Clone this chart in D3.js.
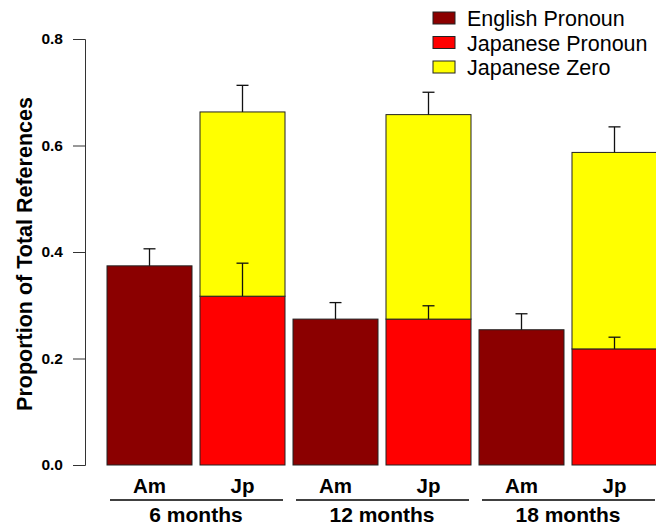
<!DOCTYPE html>
<html>
<head>
<meta charset="utf-8">
<script src="https://cdn.jsdelivr.net/npm/d3@7"></script>
<style>
  html, body { margin: 0; padding: 0; background: #fff; }
  svg { display: block; font-family: "Liberation Sans", Arial, Helvetica, sans-serif; }
</style>
</head>
<body>
<svg id="chart" width="656" height="527"></svg>
<script>
// Ages at which the references were sampled
const ages = ["6 months", "12 months", "18 months"];
const groups = ["Am", "Jp"];

// English pronoun proportion (American children) and its standard error
const englishPronoun = [0.374, 0.274, 0.254];
const englishPronounSE = [0.032, 0.031, 0.030];

// Japanese pronoun proportion and standard error
const japanesePronoun = [0.317, 0.274, 0.218];
const japanesePronounSE = [0.062, 0.025, 0.022];

// Japanese zero-reference proportion (stacked above the pronoun) and SE of the stack total
const japaneseZero = [0.346, 0.384, 0.369];
const japaneseTotalSE = [0.050, 0.042, 0.048];

const yTicks = [0.0, 0.2, 0.4, 0.6, 0.8];
const legendLabels = ["English Pronoun", "Japanese Pronoun", "Japanese Zero"];
const legendColors = ["#8b0000", "#ff0000", "#ffff00"];

const svg = d3.select("#chart");

const y = d3.scaleLinear().domain([0, 0.8]).range([465, 39]);

// one slot per (age, group) pair
const slots = [];
ages.forEach(a => groups.forEach(g => slots.push(a + "|" + g)));
const x = d3.scaleBand().domain(slots).range([107, 657]).paddingInner(0.086).paddingOuter(0);
const bw = x.bandwidth();

// stacked segments
const segs = [];
ages.forEach((a, i) => {
  segs.push({ key: a + "|Am", y0: 0, y1: englishPronoun[i], color: legendColors[0] });
  segs.push({ key: a + "|Jp", y0: 0, y1: japanesePronoun[i], color: legendColors[1] });
  segs.push({ key: a + "|Jp", y0: japanesePronoun[i], y1: japanesePronoun[i] + japaneseZero[i], color: legendColors[2] });
});

svg.append("g").selectAll("rect").data(segs).join("rect")
  .attr("x", d => x(d.key))
  .attr("y", d => y(d.y1))
  .attr("width", bw)
  .attr("height", d => y(d.y0) - y(d.y1))
  .attr("fill", d => d.color)
  .attr("stroke", "#222")
  .attr("stroke-width", 1);

// error bars (upper half only)
const errs = [];
ages.forEach((a, i) => {
  errs.push({ key: a + "|Am", v: englishPronoun[i], se: englishPronounSE[i] });
  errs.push({ key: a + "|Jp", v: japanesePronoun[i], se: japanesePronounSE[i] });
  errs.push({ key: a + "|Jp", v: japanesePronoun[i] + japaneseZero[i], se: japaneseTotalSE[i] });
});
const eg = svg.append("g").attr("stroke", "#111").attr("stroke-width", 1.3);
errs.forEach(d => {
  const cx = x(d.key) + bw / 2;
  eg.append("line").attr("x1", cx).attr("x2", cx).attr("y1", y(d.v)).attr("y2", y(d.v + d.se));
  eg.append("line").attr("x1", cx - 6).attr("x2", cx + 6).attr("y1", y(d.v + d.se)).attr("y2", y(d.v + d.se));
});

// y axis
const yAxis = svg.append("g").attr("transform", "translate(85,0)")
  .call(d3.axisLeft(y).tickValues(yTicks).tickFormat(d3.format(".1f")).tickSizeOuter(0).tickSize(12).tickPadding(10));
yAxis.select(".domain").attr("stroke", "#333");
yAxis.selectAll(".tick line").attr("stroke", "#333");
yAxis.selectAll(".tick text")
  .attr("font-size", 15.5).attr("font-weight", "bold").attr("fill", "#000")
  .attr("font-family", "Liberation Sans, Arial, sans-serif");

svg.append("text")
  .attr("transform", "translate(32,254) rotate(-90)")
  .attr("text-anchor", "middle")
  .attr("font-size", 21.5).attr("font-weight", "bold")
  .text("Proportion of Total References");

// group labels under each bar
svg.append("g").selectAll("text").data(slots).join("text")
  .attr("x", d => x(d) + bw / 2)
  .attr("y", 493)
  .attr("text-anchor", "middle")
  .attr("font-size", 20.5).attr("font-weight", "bold")
  .text(d => d.split("|")[1]);

// age labels with rules
const ageG = svg.append("g");
ages.forEach(a => {
  const left = x(a + "|Am"), right = x(a + "|Jp") + bw;
  ageG.append("line").attr("x1", left + 3).attr("x2", right - 2)
    .attr("y1", 500).attr("y2", 500).attr("stroke", "#000").attr("stroke-width", 1.3);
  ageG.append("text").attr("x", (left + right) / 2).attr("y", 522)
    .attr("text-anchor", "middle").attr("font-size", 21).attr("font-weight", "bold")
    .text(a);
});

// legend
const lg = svg.append("g");
legendLabels.forEach((lab, i) => {
  const cy = 18 + i * 24.5;
  lg.append("rect").attr("x", 433).attr("y", cy - 6).attr("width", 22).attr("height", 12)
    .attr("fill", legendColors[i]).attr("stroke", "#222").attr("stroke-width", 1);
  lg.append("text").attr("x", 467).attr("y", cy + 8)
    .attr("font-size", 21.5).text(lab);
});
</script>
</body>
</html>
